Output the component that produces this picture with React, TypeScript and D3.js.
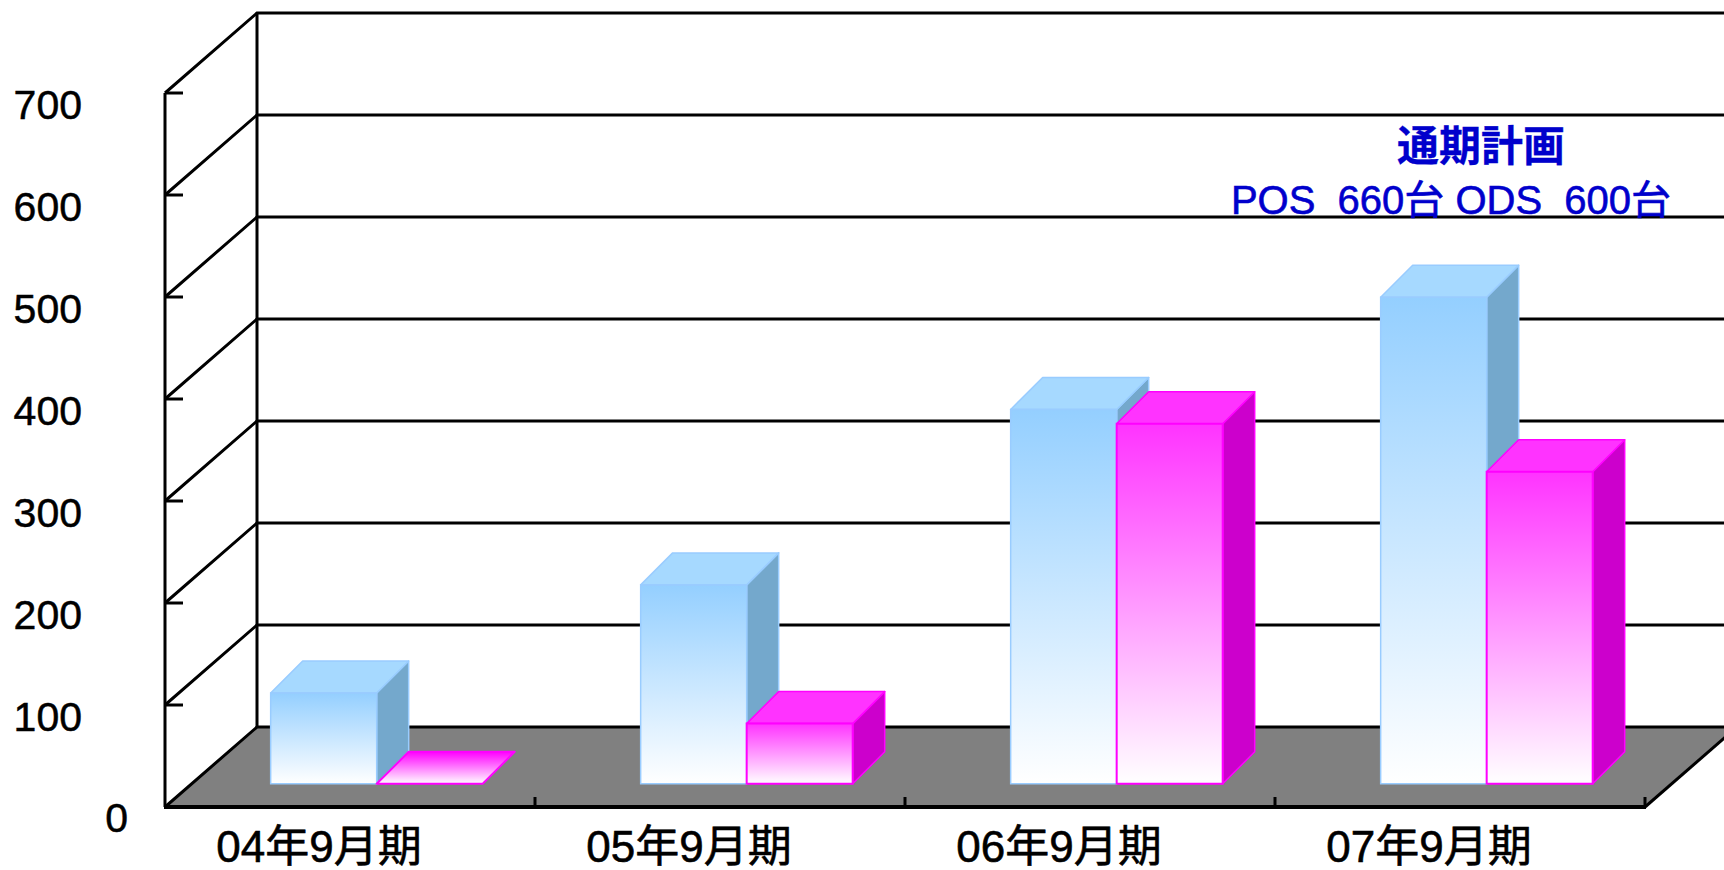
import React from "react";
import * as d3 from "d3";

const categories = ["04年9月期", "05年9月期", "06年9月期", "07年9月期"];
const seriesNames = ["POS", "ODS"];
const posValues = [89, 195, 367, 477];
const odsValues = [0, 59, 353, 306];
const yTicks = [0, 100, 200, 300, 400, 500, 600, 700];
const noteTitle = "通期計画";
const noteLine = "POS  660台 ODS  600台";

const W = 1724;
const H = 870;
const FONT = "'Liberation Sans', Arial, 'Noto Sans CJK JP', sans-serif";

const colors = {
  POS: { top: "#A6D9FF", side: "#74A8CC", stroke: "#99CCFF", grad0: "#94CFFF", grad1: "#FFFFFF" },
  ODS: { top: "#FF33FF", side: "#CC00CC", stroke: "#FF00FF", grad0: "#FF33FF", grad1: "#FFFFFF" },
};

export default function App() {
  const xLeft = 165;
  const xRight = 1645;
  const depthX = 92;
  const depthY = 80;
  const zFront = 0.29;
  const barDX = 32;
  const barDY = 32;

  const y = d3.scaleLinear().domain([0, 700]).range([807, 93]);
  const xCat = d3.scaleBand<string>().domain(categories).range([xLeft, xRight]).padding(0);
  const xSer = d3
    .scaleBand<string>()
    .domain(seriesNames)
    .range([0, xCat.bandwidth()])
    .paddingInner(0)
    .paddingOuter(0.745);

  const proj = (x: number, v: number, z: number): [number, number] => [x + z * depthX, y(v) - z * depthY];
  const back = (p: [number, number]): [number, number] => [p[0] + barDX, p[1] - barDY];
  const pts = (arr: [number, number][]) => arr.map((p) => p.join(",")).join(" ");

  const seriesData: Record<string, number[]> = { POS: posValues, ODS: odsValues };

  const bars: JSX.Element[] = [];
  categories.forEach((cat, ci) => {
    seriesNames.forEach((s) => {
      const v = seriesData[s][ci];
      const c = (colors as any)[s];
      const x0 = (xCat(cat) as number) + (xSer(s) as number);
      const x1 = x0 + xSer.bandwidth();
      const fbl = proj(x0, 0, zFront);
      const fbr = proj(x1, 0, zFront);
      const ftr = proj(x1, v, zFront);
      const ftl = proj(x0, v, zFront);
      const front = [fbl, fbr, ftr, ftl] as [number, number][];
      const top = [ftl, ftr, back(ftr), back(ftl)] as [number, number][];
      const side = [fbr, ftr, back(ftr), back(fbr)] as [number, number][];
      const flat = v === 0;
      bars.push(
        <g key={cat + s}>
          {!flat && <polygon points={pts(side)} fill={c.side} stroke={c.stroke} strokeWidth={1.5} strokeLinejoin="round" />}
          <polygon
            points={pts(top)}
            fill={flat ? `url(#gradTop${s})` : c.top}
            stroke={c.stroke}
            strokeWidth={flat ? 2 : 1.5}
            strokeLinejoin="round"
          />
          {!flat && <polygon points={pts(front)} fill={`url(#grad${s})`} stroke={c.stroke} strokeWidth={s === "ODS" ? 2 : 1.5} />}
        </g>
      );
    });
  });

  const gridTicks = yTicks.filter((t) => t > 0);
  const floor = [proj(xLeft, 0, 0), proj(xRight, 0, 0), proj(xRight, 0, 1), proj(xLeft, 0, 1)] as [number, number][];

  return (
    <div style={{ position: "fixed", left: 0, top: 0, width: W, height: H, background: "#fff" }}>
      <svg width={W} height={H} style={{ display: "block" }}>
        <defs>
          {seriesNames.map((s) => {
            const c = (colors as any)[s];
            return (
              <React.Fragment key={s}>
                <linearGradient id={`grad${s}`} x1="0" y1="0" x2="0" y2="1">
                  <stop offset="0%" stopColor={c.grad0} />
                  <stop offset="100%" stopColor={c.grad1} />
                </linearGradient>
                <linearGradient id={`gradTop${s}`} x1="0" y1="0" x2="0" y2="1">
                  <stop offset="0%" stopColor={c.stroke} />
                  <stop offset="100%" stopColor={c.grad1} />
                </linearGradient>
              </React.Fragment>
            );
          })}
        </defs>

        {/* floor */}
        <polygon points={pts(floor)} fill="#808080" />

        {/* back wall lines and gridlines */}
        <g stroke="#000" strokeWidth={3} fill="none">
          <line x1={proj(xLeft, 0, 1)[0]} y1={proj(xLeft, 700, 1)[1]} x2={proj(xLeft, 0, 1)[0]} y2={proj(xLeft, 0, 1)[1]} />
          {yTicks.map((t) => {
            const a = proj(xLeft, t, 0);
            const b = proj(xLeft, t, 1);
            return <path key={t} d={`M${a[0]},${a[1]} L${b[0]},${b[1]} L${W + 20},${b[1]}`} />;
          })}
          {/* front axis */}
          <line x1={xLeft} y1={y(700)} x2={xLeft} y2={y(0)} />
          {gridTicks.map((t) => (
            <line key={"tk" + t} x1={xLeft} y1={y(t)} x2={xLeft + 18} y2={y(t)} />
          ))}
          {/* floor right edge */}
          <line x1={proj(xRight, 0, 0)[0]} y1={proj(xRight, 0, 0)[1]} x2={proj(xRight, 0, 1)[0]} y2={proj(xRight, 0, 1)[1]} />
        </g>

        {/* bars */}
        {bars}

        {/* floor front edge and category ticks */}
        <g stroke="#000" fill="none">
          <line x1={xLeft - 1} y1={y(0)} x2={xRight + 1} y2={y(0)} strokeWidth={4} />
          {categories.map((cat) => {
            const x = (xCat(cat) as number) + xCat.bandwidth();
            return <line key={"ct" + cat} x1={x} y1={y(0)} x2={x} y2={y(0) - 10} strokeWidth={3} />;
          })}
        </g>

        {/* y labels */}
        <g fontFamily={FONT} fontSize={41} fill="#000" stroke="#000" strokeWidth={0.5}>
          {yTicks.map((t) =>
            t === 0 ? (
              <text key={"yl" + t} x={128} y={y(t) + 25} textAnchor="end">
                {t}
              </text>
            ) : (
              <text key={"yl" + t} x={82} y={y(t) + 26} textAnchor="end">
                {t}
              </text>
            )
          )}
        </g>

        {/* category labels */}
        <g fontFamily={FONT} fontSize={44} fill="#000" stroke="#000" strokeWidth={0.6}>
          {categories.map((cat) => (
            <text key={"cl" + cat} x={(xCat(cat) as number) + xCat.bandwidth() / 2 - 31} y={862} textAnchor="middle">
              {cat}
            </text>
          ))}
        </g>

        {/* annotation */}
        <g fontFamily={FONT} fill="#0000CC" stroke="#0000CC">
          <text x={1481} y={161} fontSize={42} fontWeight="bold" textAnchor="middle" strokeWidth={0.3}>
            {noteTitle}
          </text>
          <text x={1451} y={214} fontSize={40} textAnchor="middle" strokeWidth={0.6} style={{ whiteSpace: "pre" }}>
            {noteLine}
          </text>
        </g>
      </svg>
    </div>
  );
}
